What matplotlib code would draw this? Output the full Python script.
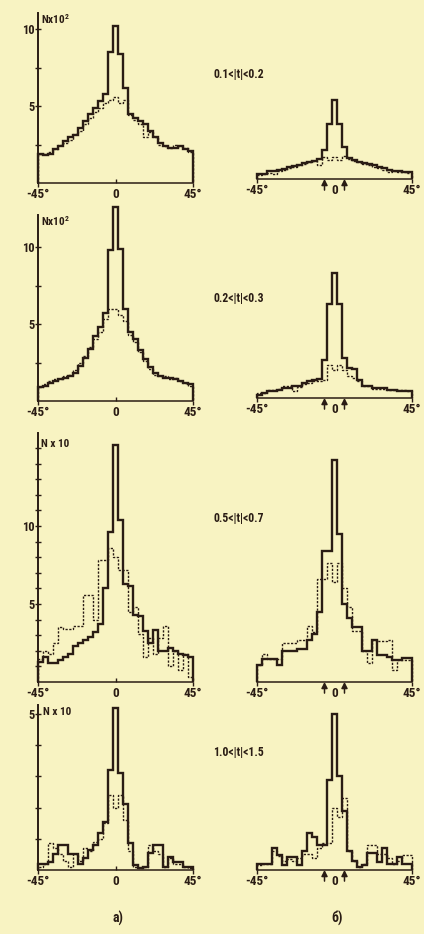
import numpy as np
import matplotlib
matplotlib.use("Agg")
import matplotlib.pyplot as plt
from matplotlib import font_manager

# ---------------- data (31 bins from -45 to 45 deg) ----------------
edges = np.linspace(-45, 45, 32)

a1_solid = [1.9, 1.8, 1.9, 2.2, 2.4, 2.7, 3.0, 3.1, 3.6, 4.0, 4.5, 4.9, 5.3, 5.8, 8.5, 10.2,
            8.4, 6.2, 4.5, 4.2, 4.0, 3.8, 3.4, 3.0, 2.6, 2.4, 2.3, 2.3, 2.4, 2.2, 2.1]
a1_dot = [1.9, 1.9, 2.0, 2.2, 2.5, 2.6, 2.8, 3.2, 3.4, 3.8, 4.2, 4.6, 4.9, 5.2, 5.4, 5.6,
          5.2, 5.4, 4.4, 4.1, 3.8, 3.0, 3.3, 3.0, 2.5, 2.4, 2.3, 2.5, 2.4, 2.3, 2.0]

a2_solid = [0.9, 1.0, 1.2, 1.3, 1.4, 1.5, 1.6, 1.8, 2.3, 2.8, 3.4, 4.2, 4.8, 5.7, 9.8, 12.6,
            9.9, 6.0, 4.5, 4.0, 3.3, 2.7, 2.2, 1.8, 1.6, 1.5, 1.5, 1.4, 1.3, 1.2, 1.1]
a2_dot = [0.9, 1.1, 1.3, 1.4, 1.4, 1.6, 1.7, 2.0, 2.5, 2.9, 3.5, 4.0, 4.5, 5.3, 6.0, 6.0,
          5.6, 5.2, 4.3, 3.8, 3.2, 2.6, 2.1, 1.7, 1.6, 1.6, 1.4, 1.5, 1.3, 1.2, 1.0]

a3_solid = [1.3, 1.6, 1.2, 1.2, 1.4, 1.6, 1.8, 2.3, 2.5, 2.7, 2.9, 3.2, 3.7, 6.0, 9.6, 15.2,
            10.4, 6.3, 6.15, 4.3, 4.2, 3.3, 2.5, 3.35, 2.0, 2.0, 2.2, 2.0, 1.8, 1.7, 1.6]
a3_dot = [1.5, 2.0, 1.8, 2.5, 3.5, 3.4, 3.4, 3.6, 3.6, 5.6, 5.6, 4.0, 7.8, 7.8, 8.6, 8.0,
          7.2, 7.2, 4.5, 4.8, 3.1, 1.6, 2.8, 1.8, 2.8, 3.6, 1.0, 2.0, 0.8, 1.8, 0.3]

a4_solid = [0.2, 0.2, 0.27, 0.5, 0.8, 0.8, 0.5, 0.5, 0.2, 0.4, 0.64, 0.8, 1.2, 1.55, 3.2, 5.2,
            3.1, 2.1, 0.85, 0.16, 0.05, 0.1, 0.53, 0.8, 0.8, 0.1, 0.43, 0.27, 0.27, 0.1, 0.1]
a4_dot = [0.1, 0.2, 0.85, 0.7, 0.5, 0.3, 0.1, 0.5, 0.3, 0.7, 0.6, 0.9, 1.0, 1.5, 2.4, 2.0,
          2.4, 1.6, 0.6, 0.1, 0.05, 0.1, 0.8, 0.6, 0.5, 0.1, 0.4, 0.2, 0.2, 0.1, 0.05]

b1_solid = [0.3, 0.3, 0.5, 0.5, 0.6, 0.65, 0.75, 0.85, 0.9, 1.05, 1.1, 1.2, 1.3, 1.9, 3.6, 5.1,
            3.6, 2.1, 1.35, 1.25, 1.1, 1.05, 0.95, 0.9, 0.8, 0.7, 0.6, 0.55, 0.5, 0.45, 0.45]
b1_dot = [0.25, 0.3, 0.4, 0.35, 0.5, 0.6, 0.7, 0.8, 0.9, 1.0, 1.1, 1.2, 0.9, 1.45, 1.25, 1.45,
          1.25, 1.5, 1.3, 1.2, 1.1, 1.0, 0.9, 0.8, 0.7, 0.6, 0.45, 0.5, 0.45, 0.45, 0.4]

b2_solid = [0.2, 0.3, 0.43, 0.43, 0.55, 0.65, 0.65, 0.76, 0.76, 1.0, 1.08, 1.2, 1.23, 2.5, 6.1, 8.1,
            6.1, 2.6, 1.95, 1.9, 1.2, 0.8, 0.8, 0.65, 0.65, 0.65, 0.54, 0.54, 0.43, 0.43, 0.43]
b2_dot = [0.3, 0.35, 0.5, 0.5, 0.6, 0.8, 0.8, 0.45, 0.7, 0.9, 1.0, 1.1, 1.1, 1.2, 2.16, 1.84,
          2.16, 1.84, 1.4, 1.3, 1.08, 0.8, 0.76, 0.6, 0.6, 0.6, 0.55, 0.55, 0.5, 0.5, 0.45]

b3_solid = [1.07, 1.5, 1.5, 1.5, 1.07, 2.0, 2.0, 2.0, 2.1, 2.1, 2.7, 3.1, 4.5, 8.4, 8.4, 14.2,
            9.5, 5.0, 4.1, 3.5, 3.5, 2.0, 2.0, 2.7, 1.7, 1.7, 1.6, 1.4, 1.4, 1.56, 1.56]
b3_dot = [1.07, 1.8, 1.5, 1.5, 1.5, 2.5, 2.5, 2.5, 2.7, 2.7, 3.6, 3.2, 6.6, 6.6, 7.6, 6.4,
          7.6, 6.0, 4.8, 3.3, 3.3, 2.0, 1.2, 2.7, 2.6, 2.6, 2.7, 0.75, 1.4, 1.4, 1.4]

b4_solid = [0.2, 0.2, 0.2, 0.7, 0.48, 0.16, 0.43, 0.43, 0.16, 0.6, 1.2, 1.07, 0.8, 0.8, 2.9, 5.0,
            3.0, 1.9, 0.6, 0.3, 0.1, 0.16, 0.53, 0.53, 0.27, 0.7, 0.2, 0.2, 0.43, 0.2, 0.2]
b4_dot = [0.15, 0.2, 0.2, 0.6, 0.45, 0.3, 0.35, 0.3, 0.4, 0.5, 0.5, 0.4, 0.7, 0.85, 0.85, 2.0,
          1.7, 2.3, 0.6, 0.3, 0.1, 0.2, 0.8, 0.8, 0.5, 0.5, 0.4, 0.2, 0.3, 0.48, 0.48]

t_ranges = ["0.1<|t|<0.2", "0.2<|t|<0.3", "0.5<|t|<0.7", "1.0<|t|<1.5"]
y_units = ["Nx10$^{2}$", "Nx10$^{2}$", "N x 10", "N x 10"]
x_labels = ["-45°", "0", "45°"]
panel_labels = ["a)", "б)"]

# ---------------- style ----------------
avail = {f.name for f in font_manager.fontManager.ttflist}
fam = "DejaVu Sans"
for cand in ["DejaVu Sans Condensed", "Liberation Sans Narrow", "Roboto Condensed"]:
    if cand in avail:
        fam = cand
        break
plt.rcParams["font.family"] = [fam, "DejaVu Sans"]
plt.rcParams["font.weight"] = "bold"
plt.rcParams["mathtext.fontset"] = "custom"
plt.rcParams["mathtext.rm"] = fam
plt.rcParams["mathtext.bf"] = fam + ":bold"

BG = "#f8f3c2"
INK = "#2a1c14"
W, H = 424, 934

fig = plt.figure(figsize=(W / 100, H / 100), dpi=100, facecolor=BG)

rows = [
    dict(py=183, top=13, s=15.4, rpy=179, major=[5, 10], minor=[2.5, 7.5], ty=74, uy=19, ux=41),
    dict(py=401, top=215, s=15.4, rpy=398, major=[5, 10], minor=[2.5, 7.5], ty=298, uy=221, ux=41),
    dict(py=682, top=433, s=15.6, rpy=682, major=[5, 10], minor=list(range(1, 16)), ty=518, uy=444, ux=41),
    dict(py=870, top=705, s=31.2, rpy=870, major=[5], minor=[1, 2, 3, 4], ty=752, uy=712, ux=43),
]
left_data = [(a1_solid, a1_dot), (a2_solid, a2_dot), (a3_solid, a3_dot), (a4_solid, a4_dot)]
right_data = [(b1_solid, b1_dot), (b2_solid, b2_dot), (b3_solid, b3_dot), (b4_solid, b4_dot)]


def make_ax(x0, x1, py, top, s):
    ax = fig.add_axes([x0 / W, 1 - py / H, (x1 - x0) / W, (py - top) / H])
    ax.set_facecolor("none")
    ax.set_xlim(-45, 45)
    ax.set_ylim(0, (py - top) / s)
    for sp in ["top", "right"]:
        ax.spines[sp].set_visible(False)
    ax.spines["bottom"].set_color(INK)
    ax.spines["bottom"].set_linewidth(1.1)
    return ax


def draw_hist(ax, solid, dot):
    ax.stairs(dot, edges, baseline=0, color=INK, lw=1.0, ls=(0, (1.6, 1.1)), clip_on=False)
    ax.stairs(solid, edges, baseline=0, color=INK, lw=1.7, clip_on=False)


TS = 9.5
for i, r in enumerate(rows):
    # left panel (a)
    ax = make_ax(38, 193, r["py"], r["top"], r["s"])
    draw_hist(ax, *left_data[i])
    ax.spines["left"].set_color(INK)
    ax.spines["left"].set_linewidth(1.4)
    ax.set_xticks([-45, 45])
    ax.set_xticklabels([x_labels[0], x_labels[2]])
    ax.set_xticks([0], minor=True)
    ax.set_xticklabels([x_labels[1]], minor=True)
    ax.tick_params(axis="x", which="major", direction="out", length=3, width=1,
                   color=INK, labelcolor=INK, labelsize=TS, pad=0.5)
    ax.tick_params(axis="x", which="minor", direction="in", length=3, width=1,
                   color=INK, labelcolor=INK, labelsize=TS, pad=3.5)
    ax.set_yticks(r["major"])
    ax.set_yticklabels([str(v) for v in r["major"]])
    ax.set_yticks(r["minor"], minor=True)
    ax.tick_params(axis="y", which="both", direction="inout", length=4, width=1,
                   color=INK, labelcolor=INK, labelsize=9, pad=0.5)
    fig.text(r["ux"] / W, 1 - r["uy"] / H, y_units[i], fontsize=8, color=INK,
             ha="left", va="center")

    # right panel (б)
    axr = make_ax(257, 412, r["rpy"], r["top"], r["s"])
    draw_hist(axr, *right_data[i])
    axr.spines["left"].set_visible(False)
    axr.set_yticks([])
    axr.set_xticks([-45, 45])
    axr.set_xticklabels([x_labels[0], x_labels[2]])
    axr.set_xticks([0], minor=True)
    axr.set_xticklabels([x_labels[1]], minor=True)
    axr.tick_params(axis="x", which="major", direction="out", length=3, width=1,
                    color=INK, labelcolor=INK, labelsize=TS, pad=0.5)
    axr.tick_params(axis="x", which="minor", length=0, color=INK, labelcolor=INK,
                    labelsize=TS, pad=3.5)
    for xa in (-5.8, 5.8):
        axr.annotate("", xy=(xa, 0), xytext=(0, -8), xycoords="data",
                     textcoords="offset points", annotation_clip=False,
                     arrowprops=dict(arrowstyle="-|>,head_length=0.35,head_width=0.18",
                                     color=INK, lw=1.1, shrinkA=0, shrinkB=0))

    fig.text(213 / W, 1 - r["ty"] / H, t_ranges[i], fontsize=8.5, color=INK,
             ha="left", va="center")

fig.text(118 / W, 1 - 918 / H, panel_labels[0], fontsize=10, color=INK, ha="center", va="center")
fig.text(337 / W, 1 - 918 / H, panel_labels[1], fontsize=10, color=INK, ha="center", va="center")

fig.savefig("out.png", dpi=100, facecolor=BG)
